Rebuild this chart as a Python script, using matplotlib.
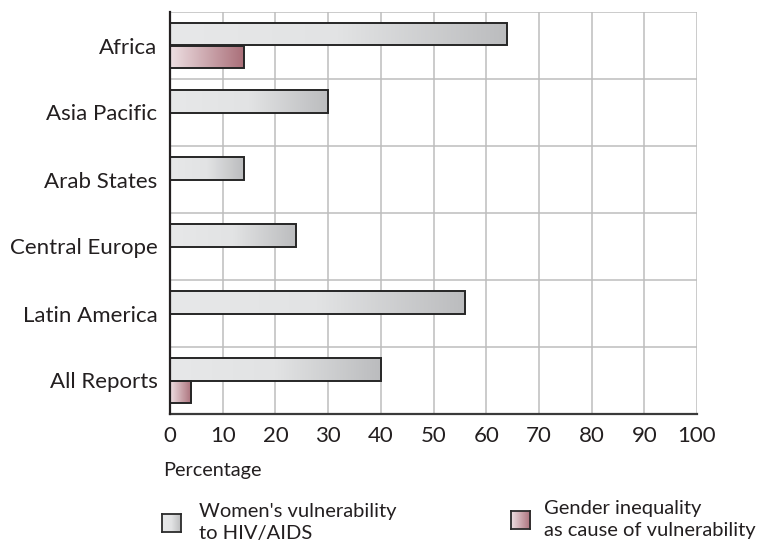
import matplotlib.pyplot as plt
import numpy as np
from matplotlib.colors import LinearSegmentedColormap
from matplotlib.patches import Rectangle

plt.rcParams['font.family'] = ['Lato', 'DejaVu Sans']

regions = ['Africa', 'Asia Pacific', 'Arab States', 'Central Europe', 'Latin America', 'All Reports']
vulnerability = [64, 30, 14, 24, 56, 40]
inequality = [14, 0, 0, 0, 0, 4]

gray_cmap = LinearSegmentedColormap.from_list('g', ['#e7e8e9', '#e2e3e4', '#bbbcbe'])
red_cmap = LinearSegmentedColormap.from_list('r', ['#eee0e3', '#aa6f79'])
grad = np.linspace(0, 1, 256).reshape(1, -1)

fig = plt.figure(figsize=(7.57, 5.43), dpi=100)
ax = fig.add_axes([170 / 757, 1 - 414 / 543, 527 / 757, 402 / 543])

h = 0.33


def gbar(ax, x0, w, y0, hh, cmap):
    if w <= 0:
        return
    im = ax.imshow(grad, cmap=cmap, aspect='auto', extent=[x0, x0 + w, y0 + hh, y0],
                   interpolation='bicubic', zorder=3)
    r = Rectangle((x0, y0), w, hh, facecolor='none', edgecolor='#262626', lw=1.4, zorder=4)
    ax.add_patch(r)
    im.set_clip_path(r)


for i in range(len(regions)):
    gbar(ax, 0, vulnerability[i], i - h, h, gray_cmap)
    gbar(ax, 0, inequality[i], i, h, red_cmap)

ax.set_xlim(0, 100)
ax.set_ylim(5.5, -0.5)
ax.set_xticks(np.arange(0, 101, 10))
ax.set_yticks(range(len(regions)))
ax.set_yticklabels(regions)
ax.set_yticks(np.arange(-0.5, 6, 1), minor=True)
ax.tick_params(axis='both', which='both', length=0, labelsize=16, colors='#231f20')
ax.tick_params(axis='x', pad=9)
ax.tick_params(axis='y', pad=9)
ax.grid(axis='x', which='major', color='#bdbdbd', lw=1.1, zorder=0)
ax.grid(axis='y', which='minor', color='#bdbdbd', lw=1.1, zorder=0)
ax.set_axisbelow(True)
for s in ['top', 'right']:
    ax.spines[s].set_visible(False)
ax.spines['left'].set_color('#231f20')
ax.spines['left'].set_linewidth(1.6)
ax.spines['bottom'].set_color('#3a3a3a')
ax.spines['bottom'].set_linewidth(1.6)
ax.spines['left'].set_zorder(5)

fig.text(163 / 757, 1 - 476 / 543, 'Percentage', fontsize=14.3, va='baseline', ha='left', color='#231f20')


# legend
def legend_box(x, y, cmap):
    lax = fig.add_axes([x / 757, 1 - (y + 18) / 543, 19 / 757, 18 / 543])
    lax.imshow(grad, cmap=cmap, aspect='auto', extent=[0, 1, 0, 1])
    lax.set_xticks([])
    lax.set_yticks([])
    for s in lax.spines.values():
        s.set_color('#2b2b2b')
        s.set_linewidth(1.3)


legend_box(162, 514, gray_cmap)
legend_box(511, 511, red_cmap)
legend_lines = [
    (199, [517, 539], ["Women's vulnerability", 'to HIV/AIDS']),
    (544, [514, 536], ['Gender inequality', 'as cause of vulnerability']),
]
for x, ys, lines in legend_lines:
    for y, t in zip(ys, lines):
        fig.text(x / 757, 1 - y / 543, t, fontsize=14.5, va='baseline', ha='left', color='#231f20')

fig.savefig('out.png', dpi=100)
